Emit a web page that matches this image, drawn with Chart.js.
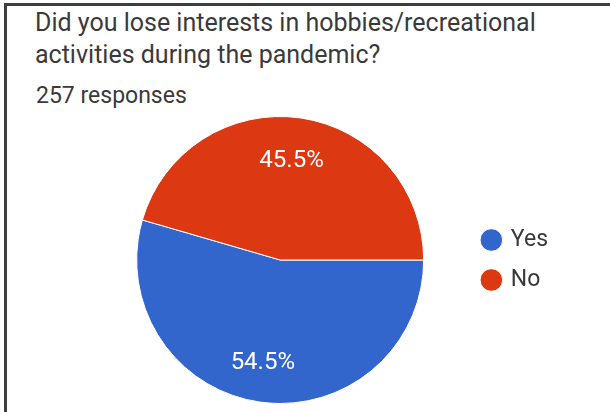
<!DOCTYPE html>
<html>
<head>
<meta charset="utf-8">
<script src="https://cdn.jsdelivr.net/npm/chart.js@4.4.1/dist/chart.umd.min.js"></script>
<style>
    html, body { margin: 0; padding: 0; background: #fff; }
    body { width: 610px; height: 412px; position: relative; overflow: hidden; font-family: Roboto, 'Noto Sans', sans-serif; }
    .frame { position: absolute; left: 4px; top: 3px; right: -10px; bottom: -10px; border-left: 3px solid #3e3e3e; border-top: 3px solid #3e3e3e; }
    .title { position: absolute; left: 35px; top: 7px; font-size: 25px; line-height: 32px; color: #3a3a3a; }
    .subtitle { position: absolute; left: 36px; top: 83px; font-size: 23px; line-height: 26px; color: #3a3a3a; }
    .chart-box { position: absolute; left: 0; top: 100px; width: 610px; height: 312px; }
</style>
</head>
<body>
<div class="frame"></div>
<div class="title" id="title"></div>
<div class="subtitle" id="subtitle"></div>
<div class="chart-box"><canvas id="pieChart" width="610" height="312"></canvas></div>
<script>
    const questionLines = ['Did you lose interests in hobbies/recreational', 'activities during the pandemic?'];
    const responseCount = 257;
    const answers = ['Yes', 'No'];
    const shares = [54.5, 45.5];
    const sliceColors = ['#3366cc', '#dc3912'];

    document.getElementById('title').innerHTML = questionLines.join('<br>');
    document.getElementById('subtitle').textContent = responseCount + ' responses';

    // Percent labels drawn inside each slice
    const sliceLabels = {
        id: 'sliceLabels',
        afterDatasetsDraw(chart) {
            const ctx = chart.ctx;
            const meta = chart.getDatasetMeta(0);
            const data = chart.data.datasets[0].data;
            const total = data.reduce((a, b) => a + b, 0);
            ctx.save();
            ctx.fillStyle = '#ffffff';
            ctx.font = "24px Roboto, 'Noto Sans', sans-serif";
            ctx.textAlign = 'center';
            ctx.textBaseline = 'middle';
            meta.data.forEach((arc, i) => {
                const { x, y, startAngle, endAngle, outerRadius } = arc.getProps(['x', 'y', 'startAngle', 'endAngle', 'outerRadius'], true);
                const mid = (startAngle + endAngle) / 2;
                const r = outerRadius * 0.71;
                const pct = (data[i] / total * 100).toFixed(1) + '%';
                ctx.fillText(pct, x + Math.cos(mid) * r - 3, y + Math.sin(mid) * r + 2);
            });
            ctx.restore();
        }
    };

    new Chart(document.getElementById('pieChart'), {
        type: 'pie',
        data: {
            labels: answers,
            datasets: [{
                data: shares,
                backgroundColor: sliceColors,
                borderColor: '#ffffff',
                borderWidth: 1
            }]
        },
        options: {
            responsive: false,
            animation: false,
            rotation: 90,
            layout: { padding: { left: 94, right: 52, top: 16, bottom: 8 } },
            plugins: {
                legend: {
                    position: 'right',
                    labels: {
                        usePointStyle: true,
                        pointStyle: 'circle',
                        boxWidth: 16,
                        boxHeight: 16,
                        padding: 17,
                        color: '#3a3a3a',
                        font: { family: "Roboto, 'Noto Sans', sans-serif", size: 23 }
                    }
                },
                tooltip: { enabled: false }
            }
        },
        plugins: [sliceLabels]
    });
</script>
</body>
</html>
